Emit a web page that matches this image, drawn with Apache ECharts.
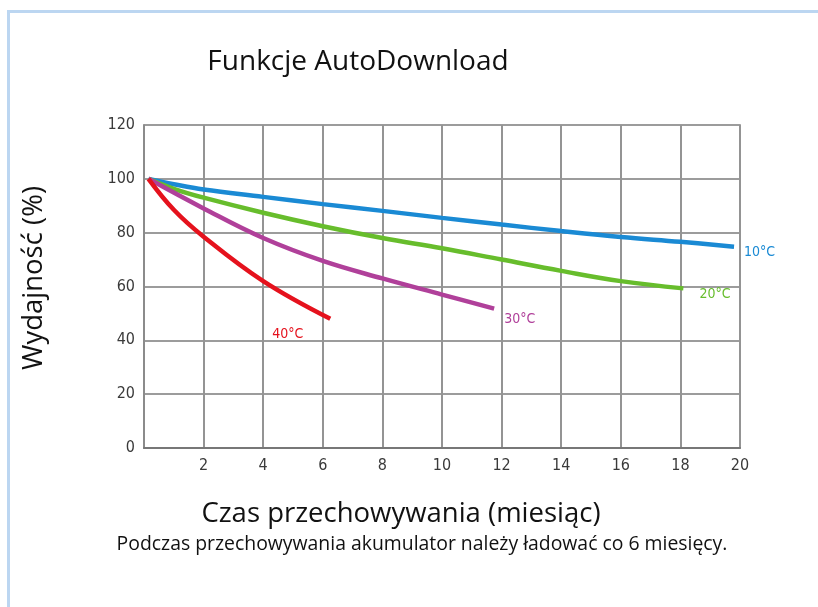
<!DOCTYPE html>
<html>
<head>
<meta charset="utf-8">
<script src="https://cdn.jsdelivr.net/npm/echarts@6/dist/echarts.min.js"></script>
<style>
  html, body { margin: 0; padding: 0; background: #ffffff; }
  #chart { width: 818px; height: 607px; }
</style>
</head>
<body>
<div id="chart"></div>
<script>
// Storage time in months and remaining capacity (%) for each temperature
const months10 = [0.15, 1, 2, 4, 6, 8, 10, 12, 14, 16, 18, 19.8];
const cap10    = [100, 98, 96, 93.3, 90.6, 88.1, 85.5, 83, 80.6, 78.4, 76.6, 74.8];

const months20 = [0.15, 1, 2, 4, 6, 8, 10, 12, 14, 16, 18.1];
const cap20    = [100, 96.3, 93, 87.4, 82.4, 78, 74.2, 70, 65.8, 62, 59.3];

const months30 = [0.15, 2, 4, 6, 8, 10, 11.75];
const cap30    = [100, 89, 78, 69.5, 63, 57, 51.8];

const months40 = [0.15, 1, 2, 4, 6.25];
const cap40    = [100, 88.5, 78.5, 62, 48];

const seriesNames = ['10°C', '20°C', '30°C', '40°C'];
const xTicks = [0, 2, 4, 6, 8, 10, 12, 14, 16, 18, 20];
const yTicks = [0, 20, 40, 60, 80, 100, 120];

const xAxisTitle = 'Czas przechowywania (miesiąc)';
const yAxisTitle = 'Wydajność (%)';

const pairs = (xs, ys) => xs.map((x, i) => [x, ys[i]]);

const chart = echarts.init(document.getElementById('chart'), null, { renderer: 'canvas' });

const condensed = '"DejaVu Sans Condensed", "Liberation Sans Narrow", sans-serif';
const textFont = '"Open Sans", "Noto Sans", sans-serif';

function line(name, data, color, offset) {
  return {
    name: name,
    type: 'line',
    data: data,
    smooth: 0.4,
    symbol: 'none',
    lineStyle: { color: color, width: 4.5 },
    endLabel: {
      show: true,
      formatter: name,
      color: color,
      fontSize: 14,
      fontFamily: condensed,
      distance: 0,
      offset: offset,
      align: 'left',
      verticalAlign: 'middle'
    },
    z: 3
  };
}

chart.setOption({
  backgroundColor: '#ffffff',
  animation: false,
  title: [
    {
      text: 'Funkcje AutoDownload',
      left: 353, top: 43, textAlign: 'center',
      textStyle: { fontFamily: textFont, fontSize: 28, fontWeight: 'normal', color: '#111' }
    },
    {
      text: 'Podczas przechowywania akumulator należy ładować co 6 miesięcy.',
      left: 417, top: 530, textAlign: 'center',
      textStyle: { fontFamily: textFont, fontSize: 19.4, fontWeight: 'normal', color: '#111' }
    }
  ],
  grid: { left: 144, right: 78, top: 125, bottom: 159, show: true, borderColor: '#777', borderWidth: 1.5 },
  xAxis: {
    type: 'value',
    min: xTicks[0], max: xTicks[xTicks.length - 1], interval: 2,
    axisLine: { show: true, lineStyle: { color: '#777', width: 2 } },
    axisTick: { show: false },
    axisLabel: {
      fontFamily: condensed, fontSize: 16, color: '#3a3a3a', margin: 10,
      formatter: v => (v === 0 ? '' : String(v))
    },
    splitLine: { show: true, lineStyle: { color: '#949494', width: 2 } }
  },
  yAxis: {
    type: 'value',
    min: yTicks[0], max: yTicks[yTicks.length - 1], interval: 20,
    axisLine: { show: true, lineStyle: { color: '#888', width: 1.5 } },
    axisTick: { show: false },
    axisLabel: { fontFamily: condensed, fontSize: 16, color: '#3a3a3a', margin: 9 },
    splitLine: { show: true, lineStyle: { color: '#9c9c9c', width: 2 } }
  },
  series: [
    line(seriesNames[0], pairs(months10, cap10), '#1a8ad4', [10, 6]),
    line(seriesNames[1], pairs(months20, cap20), '#67bd2c', [16, 6]),
    line(seriesNames[2], pairs(months30, cap30), '#b0409a', [10, 11]),
    line(seriesNames[3], pairs(months40, cap40), '#e5121d', [-58, 16])
  ],
  graphic: [
    // light blue frame along the top and left edge
    { type: 'rect', shape: { x: 7, y: 10, width: 811, height: 3 }, style: { fill: '#bcd6f1' }, silent: true },
    { type: 'rect', shape: { x: 7, y: 10, width: 3, height: 597 }, style: { fill: '#bcd6f1' }, silent: true },
    // axis titles
    {
      type: 'text', x: 401, y: 514,
      style: { text: xAxisTitle, font: '27.5px ' + textFont, fill: '#111', align: 'center', verticalAlign: 'middle' }
    },
    {
      type: 'text', x: 34, y: 278, rotation: Math.PI / 2,
      style: { text: yAxisTitle, font: '27.5px ' + textFont, fill: '#111', align: 'center', verticalAlign: 'middle' }
    }
  ]
});
</script>
</body>
</html>
